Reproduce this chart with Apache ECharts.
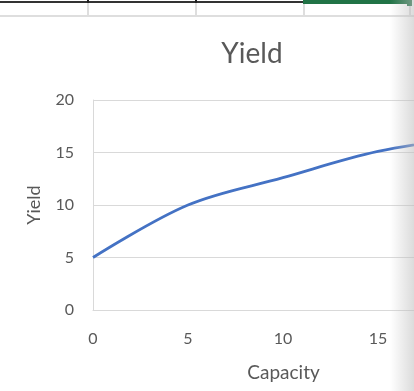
<!DOCTYPE html>
<html>
<head>
<meta charset="utf-8">
<script src="https://cdn.jsdelivr.net/npm/echarts@6/dist/echarts.min.js"></script>
<style>
  html, body { margin: 0; padding: 0; background: #ffffff; }
  #chart { width: 414px; height: 391px; }
</style>
</head>
<body>
<div id="chart"></div>
<script>
// Capacity vs. yield
const capacity = [0, 5, 10, 15, 20];
const yieldValues = [5, 10, 12.6, 15.1, 16.5];
const xTicks = [0, 5, 10, 15];
const yTicks = [0, 5, 10, 15, 20];
// the window cuts the plot area off a little past 15
const xVisibleMax = 16.9;

const textGray = '#595959';
const gridGray = '#d9d9d9';
const fontFamily = 'Lato, "Open Sans", sans-serif';

const chart = echarts.init(document.getElementById('chart'), null, { renderer: 'canvas' });

chart.setOption({
  animation: false,
  backgroundColor: '#ffffff',
  title: {
    text: 'Yield',
    left: 247,
    textAlign: 'center',
    top: 35,
    textStyle: { color: textGray, fontSize: 28, fontWeight: 'normal', fontFamily: fontFamily }
  },
  grid: { left: 93, top: 100, right: 0, height: 210, containLabel: false },
  xAxis: {
    type: 'value',
    min: xTicks[0],
    max: xVisibleMax,
    interval: xTicks[1] - xTicks[0],
    name: 'Capacity',
    nameLocation: 'middle',
    nameGap: 53,
    nameTextStyle: { color: textGray, fontSize: 19, fontFamily: fontFamily, padding: [0, 0, 0, 60] },
    axisLine: { show: true, lineStyle: { color: gridGray, width: 1 } },
    axisTick: { show: false },
    splitLine: { show: false },
    axisLabel: { color: textGray, fontSize: 16, fontFamily: fontFamily, margin: 21, showMaxLabel: false }
  },
  yAxis: {
    type: 'value',
    min: yTicks[0],
    max: yTicks[yTicks.length - 1],
    interval: yTicks[1] - yTicks[0],
    name: 'Yield',
    nameLocation: 'middle',
    nameGap: 50,
    nameRotate: 90,
    nameTextStyle: { color: textGray, fontSize: 18, fontFamily: fontFamily },
    axisLine: { show: true, lineStyle: { color: gridGray, width: 1 } },
    axisTick: { show: false },
    splitLine: { show: true, lineStyle: { color: gridGray, width: 1 } },
    axisLabel: { color: textGray, fontSize: 16, fontFamily: fontFamily, margin: 19 }
  },
  series: [{
    type: 'line',
    data: capacity.map((c, i) => [c, yieldValues[i]]),
    smooth: 0.35,
    showSymbol: false,
    clip: true,
    lineStyle: { color: '#4472C4', width: 2.8 },
    z: 3
  }],
  graphic: [
    // worksheet cells above the chart
    { type: 'rect', shape: { x: 0, y: 15, width: 414, height: 2 }, style: { fill: '#dedede' }, z: 10 },
    { type: 'rect', shape: { x: 87, y: 2, width: 2, height: 14 }, style: { fill: '#dedede' }, z: 10 },
    { type: 'rect', shape: { x: 195, y: 2, width: 2, height: 14 }, style: { fill: '#dedede' }, z: 10 },
    { type: 'rect', shape: { x: 303, y: 2, width: 2, height: 14 }, style: { fill: '#dedede' }, z: 10 },
    { type: 'rect', shape: { x: 409, y: 2, width: 2, height: 14 }, style: { fill: '#dedede' }, z: 10 },
    { type: 'rect', shape: { x: 0, y: 1, width: 304, height: 2 }, style: { fill: '#333333' }, z: 11 },
    { type: 'rect', shape: { x: 87, y: 0, width: 2, height: 3 }, style: { fill: '#222222' }, z: 11 },
    { type: 'rect', shape: { x: 195, y: 0, width: 2, height: 3 }, style: { fill: '#222222' }, z: 11 },
    { type: 'rect', shape: { x: 303, y: 0, width: 106, height: 4 }, style: { fill: '#217346' }, z: 11 },
    { type: 'rect', shape: { x: 407, y: 0, width: 5, height: 6 }, style: { fill: '#217346' }, z: 11 },
    // window edge shading
    {
      type: 'rect',
      shape: { x: 390, y: 0, width: 24, height: 391 },
      style: {
        fill: new echarts.graphic.LinearGradient(0, 0, 1, 0, [
          { offset: 0, color: 'rgba(190,190,190,0)' },
          { offset: 1, color: 'rgba(190,190,190,0.55)' }
        ])
      },
      z: 20
    }
  ]
});
</script>
</body>
</html>
